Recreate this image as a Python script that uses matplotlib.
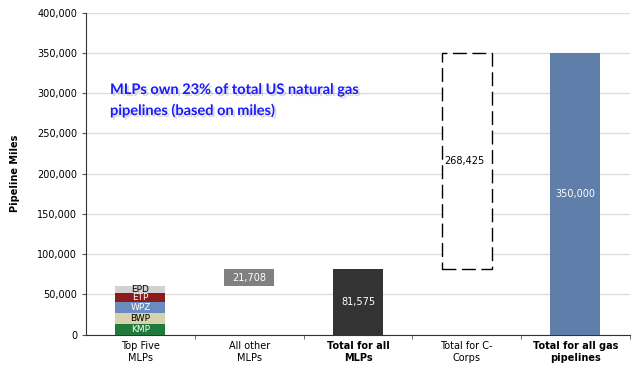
import matplotlib.pyplot as plt
import matplotlib.patheffects as pe
from matplotlib.ticker import FuncFormatter, MultipleLocator

categories = ['Top Five\nMLPs', 'All other\nMLPs', 'Total for all\nMLPs', 'Total for C-\nCorps', 'Total for all gas\npipelines']
bold_cats = [False, False, True, False, True]

top5_names = ['KMP', 'BWP', 'WPZ', 'ETP', 'EPD']
top5_miles = [12500, 13700, 13800, 12000, 7867]
top5_colors = ['#1f7a3c', '#d8d2ac', '#6a8bc0', '#8c1c1c', '#d2d2d2']
top5_text = ['white', 'black', 'white', 'white', 'black']

other_mlps = 21708
total_mlps = 81575
c_corps = 268425
total_gas = 350000

fig = plt.figure(figsize=(6.33, 3.68), dpi=100)
ax = fig.add_axes([0.136, 0.091, 0.859, 0.874])

w = 0.46
x = list(range(len(categories)))

# stacked top five MLPs
base = 0
for name, val, col, tc in zip(top5_names, top5_miles, top5_colors, top5_text):
    ax.bar(x[0], val, w, bottom=base, color=col, zorder=3)
    ax.text(x[0], base + val / 2, name, ha='center', va='center', fontsize=6.5, color=tc, zorder=4)
    base += val

# floating bar for the rest of the MLPs
ax.bar(x[1], other_mlps, w, bottom=total_mlps - other_mlps, color='#808080', zorder=3)
ax.text(x[1], total_mlps - other_mlps / 2, f'{other_mlps:,}', ha='center', va='center',
        fontsize=7, color='white', zorder=4)

ax.bar(x[2], total_mlps, w, color='#333333', zorder=3)
ax.text(x[2], total_mlps / 2, f'{total_mlps:,}', ha='center', va='center',
        fontsize=7, color='white', zorder=4)

ax.bar(x[3], c_corps, w, bottom=total_mlps, facecolor='white', edgecolor='black',
       linewidth=1.0, linestyle=(0, (10, 4)), zorder=3)
ax.text(x[3] - 0.02, total_mlps + c_corps / 2, f'{c_corps:,}', ha='center', va='center',
        fontsize=7, color='black', zorder=4)

ax.bar(x[4], total_gas, w, color='#5f7ea9', zorder=3)
ax.text(x[4], total_gas / 2, f'{total_gas:,}', ha='center', va='center',
        fontsize=7, color='white', zorder=4)

ax.text(-0.28, 291000, 'MLPs own 23% of total US natural gas\npipelines (based on miles)',
        ha='left', va='center', fontsize=10.5, color='#1a1aff', fontweight='bold',
        family='Lato', linespacing=1.5, zorder=5,
        path_effects=[pe.withSimplePatchShadow(offset=(1.5, -1.5), shadow_rgbFace='#888888', alpha=0.3)])

ax.set_xlim(-0.5, 4.5)
ax.set_ylim(0, 400000)
ax.yaxis.set_major_locator(MultipleLocator(50000))
ax.yaxis.set_major_formatter(FuncFormatter(lambda v, p: f'{int(v):,}'))
ax.grid(axis='y', color='#dddddd', linewidth=1, zorder=0)
ax.set_axisbelow(True)

ax.set_xticks(x)
ax.set_xticklabels(categories, fontsize=7, linespacing=1.2)
for lbl, b in zip(ax.get_xticklabels(), bold_cats):
    if b:
        lbl.set_fontweight('bold')
ax.set_xticks([0.5, 1.5, 2.5, 3.5, 4.5], minor=True)
ax.tick_params(axis='x', which='major', length=0, pad=5)
ax.tick_params(axis='x', which='minor', length=3, color='#555555')
ax.tick_params(axis='y', labelsize=7, length=3, color='#555555')

ax.set_ylabel('Pipeline Miles', fontsize=7, fontweight='bold', labelpad=12)

for s in ['top', 'right']:
    ax.spines[s].set_visible(False)
ax.spines['left'].set_color('#333333')
ax.spines['bottom'].set_color('#333333')

fig.savefig('out.png', dpi=100)
